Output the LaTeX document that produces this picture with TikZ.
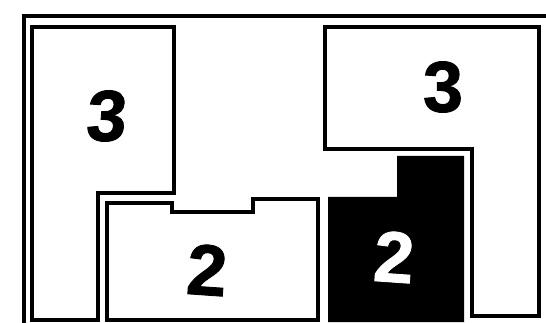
\documentclass[tikz,border=0pt]{standalone}
\usepackage{fontspec}
\setmainfont{Liberation Sans}[BoldFeatures={FakeBold=1.2}]
\begin{document}
\begin{tikzpicture}[x=1pt,y=-1pt,
  wall/.style={draw=black,line width=3.2pt,line join=miter},
  num/.style={inner sep=0pt,font=\fontsize{72}{72}\selectfont\bfseries}]
\useasboundingbox (0,0) rectangle (546,323);
\fill[white] (0,0) rectangle (546,323);
\begin{scope}
\clip (0,0) rectangle (546,323);
% outer frame (extends beyond right and bottom)
\draw[wall] (24,340) -- (24,16) -- (560,16);
% left region 3
\draw[wall] (32,27) -- (174,27) -- (174,193) -- (98,193) -- (98,320) -- (32,320) -- cycle;
% bottom white region 2
\draw[wall] (107,320) -- (107,203) -- (172,203) -- (172,212) -- (253,212) -- (253,199) -- (318,199) -- (318,320) -- cycle;
% right region 3
\draw[wall] (325,27) -- (539,27) -- (539,316) -- (472,316) -- (472,149) -- (325,149) -- cycle;
% black region 2
\fill[black] (328,197) -- (397,197) -- (397,156) -- (464,156) -- (464,322) -- (328,322) -- cycle;
\end{scope}
\node[num] (l3) at (105,116) {\addfontfeature{FakeSlant=0.08}3};
\node[num] (r3) at (443,87) {3};
\node[num,rotate=-4] (w2) at (207,270) {2};
\node[num,white,rotate=-4] (b2) at (394,257) {2};
\end{tikzpicture}
\end{document}
